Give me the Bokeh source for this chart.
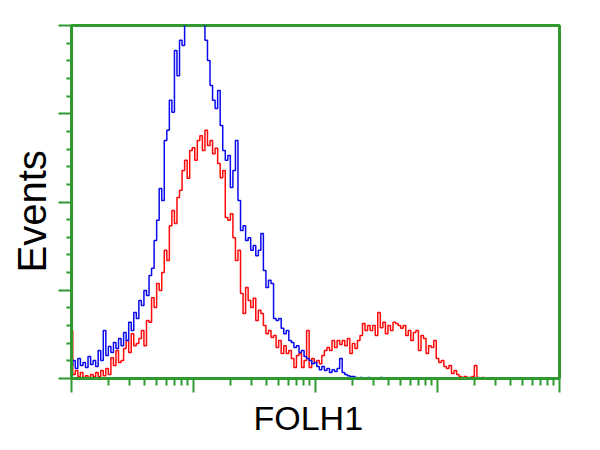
from bokeh.plotting import figure
from bokeh.models import Range1d, FixedTicker, Title
from bokeh.embed import file_html
from bokeh.resources import INLINE

# histogram channels: 48 channels per decade on a 4-decade log axis
channels_per_decade = 48

blue_counts = [
    3.7, 5.1, 2.8, 5.7, 3.7, 4.5, 3.1, 6.2, 4.0, 5.1,
    3.4, 7.9, 5.1, 13.6, 6.5, 9.1, 7.4, 10.2, 8.5, 11.3,
    9.3, 13.0, 10.8, 15.9, 13.6, 18.7, 17.0, 22.1, 20.7, 24.9,
    23.5, 29.2, 31.2, 39.1, 44.8, 53.8, 50.4, 67.4, 70.3, 78.8,
    75.4, 92.9, 85.8, 95.8, 94.3, 101, 106, 112, 118, 115,
    120, 110, 104, 95.8, 90.1, 83.0, 78.8, 76.5, 81.6, 71.7,
    64.6, 61.8, 63.2, 54.1, 58.9, 67.4, 50.4, 41.9, 43.3, 39.1,
    39.9, 36.3, 37.7, 34.8, 36.3, 41.1, 30.6, 25.8, 27.8, 26.9,
    17.0, 16.4, 17.0, 14.2, 12.7, 13.6, 10.8, 10.2, 8.8, 9.3,
    7.4, 7.9, 6.2, 5.7, 5.1, 4.2, 4.5, 3.4, 2.5, 3.4,
    2.3, 2.8, 1.7, 2.5, 2.0, 2.8, 5.7, 1.7, 1.1, 0.8,
    0.6, 0.6, 0.3, 0, 0.3, 0, 0, 0.3, 0, 0,
    0, 0, 0.3, 0, 0, 0, 0, 0, 0, 0,
]

red_counts = [
    13.6, 1.1, 2.3, 0.6, 1.7, 0.3, 0.8, 0.3, 1.1, 0.6,
    1.7, 0.6, 2.3, 0.8, 2.8, 1.1, 5.9, 3.7, 7.9, 4.5,
    5.1, 8.5, 10.8, 7.4, 12.7, 9.3, 9.9, 11.3, 13.6, 9.3,
    16.4, 15.9, 22.9, 20.1, 26.9, 24.9, 30.0, 36.3, 33.4, 43.3,
    47.6, 43.9, 51.3, 53.3, 58.9, 61.8, 56.7, 64.6, 65.4, 61.8,
    67.4, 68.8, 64.6, 70.3, 66.0, 67.4, 63.7, 65.2, 60.9, 56.9,
    58.9, 45.6, 44.8, 46.7, 39.9, 33.4, 36.3, 24.1, 18.4, 25.8,
    22.1, 20.1, 22.7, 16.4, 19.3, 18.4, 15.0, 12.7, 13.6, 11.6,
    12.2, 8.8, 10.8, 7.1, 9.3, 7.1, 7.9, 5.7, 3.1, 6.5,
    7.1, 3.1, 5.1, 13.6, 3.1, 5.7, 4.5, 5.1, 4.2, 6.5,
    7.9, 8.8, 7.9, 10.8, 8.8, 10.8, 9.6, 10.8, 9.3, 11.3,
    7.1, 9.9, 8.5, 10.8, 12.2, 15.6, 13.6, 15.0, 13.6, 15.0,
    12.2, 18.7, 14.4, 15.9, 12.7, 15.0, 13.6, 15.9, 15.6, 15.0,
    14.2, 15.0, 12.2, 13.6, 10.8, 13.0, 13.6, 7.9, 12.2, 11.3,
    7.1, 9.3, 8.8, 10.8, 5.7, 4.5, 5.1, 3.4, 2.8, 3.7,
    1.4, 2.3, 1.1, 0.6, 0.3, 0.6, 0.3, 0.3, 0.6, 3.7,
    0.3, 0, 0.3, 0,
]

x_major = [1, 10, 100, 1000, 10000]
y_major = [0, 25, 50, 75, 100]
x_title = "FOLH1"
y_title = "Events"

blue_x = [10 ** (i / channels_per_decade) for i in range(len(blue_counts))]
red_x = [10 ** (i / channels_per_decade) for i in range(len(red_counts))]

GREEN = "#2f9a2f"

p = figure(width=592, height=442, x_axis_type="log",
           x_range=Range1d(1, 10000), y_range=Range1d(0, 100),
           output_backend="svg", toolbar_location=None,
           min_border_left=71, min_border_right=33,
           min_border_top=25, min_border_bottom=64)

p.step(red_x, red_counts, mode="center", line_color="#ff0a0a", line_width=1.5)
p.step(blue_x, blue_counts, mode="center", line_color="#0a0aee", line_width=1.5)

p.grid.visible = False
p.outline_line_color = GREEN
p.outline_line_width = 3
p.outline_line_alpha = 1
p.background_fill_color = "white"
p.border_fill_color = "white"

minor_x = [k * 10 ** d for d in range(4) for k in range(2, 10)]
p.xaxis.ticker = FixedTicker(ticks=x_major, minor_ticks=minor_x)
minor_y = [v for v in range(0, 101, 5) if v % 25 != 0]
p.yaxis.ticker = FixedTicker(ticks=y_major, minor_ticks=minor_y)

for ax in (p.xaxis[0], p.yaxis[0]):
    ax.axis_line_color = GREEN
    ax.axis_line_width = 3
    ax.major_tick_line_color = GREEN
    ax.minor_tick_line_color = GREEN
    ax.major_tick_line_width = 2
    ax.minor_tick_line_width = 2
    ax.major_tick_in = 0
    ax.minor_tick_in = 0
    ax.major_label_text_font_size = "1px"
    ax.major_label_text_alpha = 0
    ax.major_label_standoff = 0

p.xaxis.major_tick_out = 14
p.xaxis.minor_tick_out = 7
p.yaxis.major_tick_out = 13
p.yaxis.minor_tick_out = 5

# axis titles as side-panel titles so they can sit off-centre like the reference
p.add_layout(Title(text=x_title, align="left", offset=182, standoff=8,
                   text_font="Liberation Sans", text_font_size="34px",
                   text_font_style="normal", text_color="black"), "below")
p.add_layout(Title(text=y_title, align="left", offset=106, standoff=10,
                   text_font="Liberation Sans", text_font_size="40px",
                   text_font_style="normal", text_color="black"), "left")

open("out.html", "w").write(file_html(p, INLINE))
